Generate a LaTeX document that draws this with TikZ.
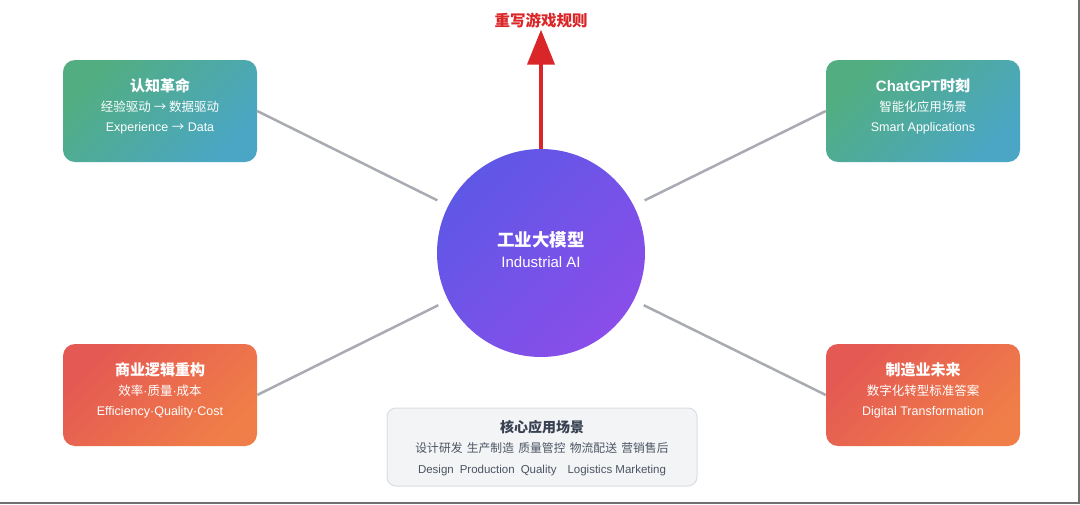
\documentclass[tikz,border=0pt]{standalone}
\usepackage{fontspec}
\setmainfont{Liberation Sans}
\newfontfamily\cjk{Noto Sans CJK SC}
\usetikzlibrary{arrows.meta}

\definecolor{greenA}{HTML}{52AE80}
\definecolor{greenB}{HTML}{4AA6C4}
\definecolor{redA}{HTML}{E45953}
\definecolor{redB}{HTML}{F07E48}
\definecolor{coreA}{HTML}{5E57E6}
\definecolor{coreB}{HTML}{8A4EEA}
\definecolor{linkgray}{HTML}{A9ABB3}
\definecolor{goalred}{HTML}{DA2628}
\definecolor{panelfill}{HTML}{F3F4F6}
\definecolor{paneldraw}{HTML}{DADDE2}
\definecolor{paneltitle}{HTML}{374151}
\definecolor{paneltext}{HTML}{4B5563}
\definecolor{framegray}{HTML}{707070}

\begin{document}
\begin{tikzpicture}[x=1pt,y=-1pt,
  card/.style={rounded corners=12pt,minimum width=194pt,minimum height=102pt,
    inner sep=0pt},
  green card/.style={card,top color=greenA,bottom color=greenB,shading angle=45},
  red card/.style={card,top color=redA,bottom color=redB,shading angle=45},
  card text/.style={align=center,text=white,inner sep=0pt,
    font=\fontsize{12.5}{20}\selectfont},
  link/.style={draw=linkgray,line width=2.5pt}]

  \useasboundingbox (0,0) rectangle (1080,504);
  \fill[white] (0,0) rectangle (1080,504);
  \draw[framegray,line width=2pt] (1079,0) -- (1079,503) -- (0,503);

  % centre
  \node[circle,minimum size=208pt,inner sep=0pt,top color=coreA,bottom color=coreB,
    shading angle=45] (core) at (541,253){};
  \node[card text,font=\fontsize{15}{21}\selectfont] (core text) at ([yshift=3pt]core.center)
    {{\cjk\bfseries\fontsize{17.5}{21}\selectfont 工业大模型}\\Industrial AI};

  % goal
  \node[text=goalred,font=\cjk\bfseries\fontsize{15.5}{18}\selectfont,inner sep=1pt]
    (rule) at (541,21){重写游戏规则};
  \draw[goalred,line width=4pt,-{Triangle[width=27pt,length=35pt]}]
    (core.north) -- (rule.south);

  % four cards
  \node[green card] (cognition) at (160,111){};
  \node[card text] (cognition text) at ([yshift=5pt]cognition.center)
    {{\cjk\bfseries\fontsize{15}{20}\selectfont 认知革命}\\{\cjk 经验驱动 → 数据驱动}\\Experience {\cjk →} Data};

  \node[green card] (chatgpt) at (923,111){};
  \node[card text] (chatgpt text) at ([yshift=5pt]chatgpt.center)
    {{\bfseries\fontsize{15}{20}\selectfont ChatGPT{\cjk 时刻}}\\{\cjk 智能化应用场景}\\Smart Applications};

  \node[red card] (business) at (160,395){};
  \node[card text] (business text) at ([yshift=5pt]business.center)
    {{\cjk\bfseries\fontsize{15}{20}\selectfont 商业逻辑重构}\\{\cjk 效率}·{\cjk 质量}·{\cjk 成本}\\Efficiency·Quality·Cost};

  \node[red card] (future) at (923,395){};
  \node[card text] (future text) at ([yshift=5pt]future.center)
    {{\cjk\bfseries\fontsize{15}{20}\selectfont 制造业未来}\\{\cjk 数字化转型标准答案}\\Digital Transformation};

  \path[link]
  (cognition.east) edge[shorten >=12pt] (core.153)
  (chatgpt.west) edge[shorten >=12pt] (core.27)
  (business.east) edge[shorten >=11pt] (core.207)
  (future.west) edge[shorten >=11pt] (core.333);

  % scenarios
  \node[rounded corners=9pt,fill=panelfill,draw=paneldraw,line width=1pt,
    minimum width=310pt,minimum height=78pt] (scenes) at (542,447){};
  \node[align=center,inner sep=0pt,text=paneltext,font=\fontsize{11.5}{20.5}\selectfont]
    (scenes text) at ([yshift=-1pt]scenes.center)
    {{\cjk\bfseries\color{paneltitle}\fontsize{14}{20.5}\selectfont 核心应用场景}\\
     {\cjk\fontsize{11.8}{20}\selectfont 设计研发\hspace{4.3pt}生产制造\hspace{4.3pt}质量管控\hspace{4.3pt}物流配送\hspace{4.3pt}营销售后}\\
     Design\hspace{6pt}Production\hspace{6pt}Quality\hspace{11pt}Logistics Marketing};
\end{tikzpicture}
\end{document}
